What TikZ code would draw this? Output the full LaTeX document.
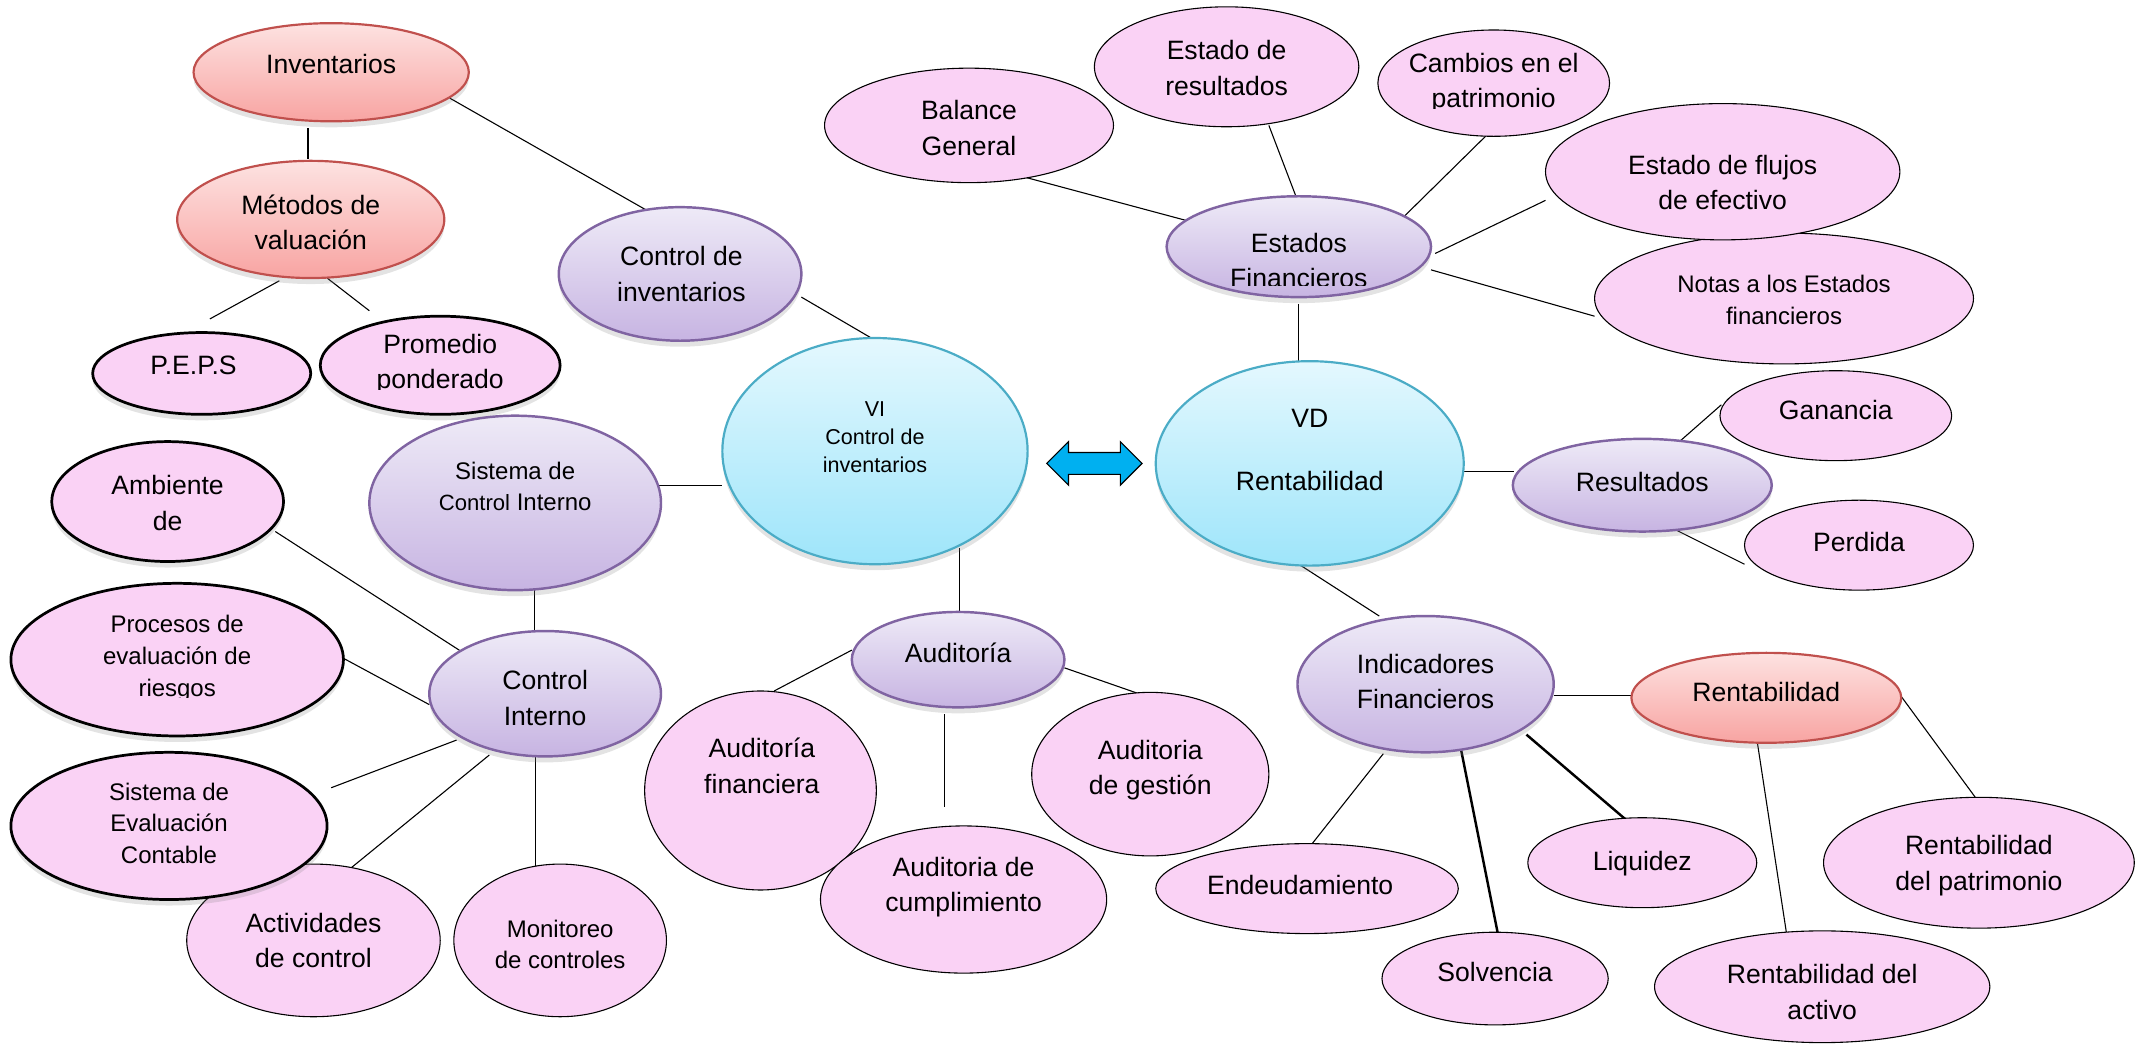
\documentclass[tikz,border=0pt]{standalone}
\usepackage{fontspec}
\setmainfont{Liberation Sans}
\usetikzlibrary{shapes.geometric,calc,shadows}
\definecolor{pinkf}{HTML}{FAD2F5}
\definecolor{purtop}{HTML}{EEEAF7}
\definecolor{purbot}{HTML}{C7B4E2}
\definecolor{purbd}{HTML}{8064A2}
\definecolor{redtop}{HTML}{FDE2E1}
\definecolor{redbot}{HTML}{F8A4A2}
\definecolor{redbd}{HTML}{C0504D}
\definecolor{cyantop}{HTML}{E4F8FE}
\definecolor{cyanbot}{HTML}{9EE5FA}
\definecolor{cyanbd}{HTML}{4BACC6}
\definecolor{arrowc}{HTML}{00B0F0}
\pgfdeclarelayer{bg}
\pgfsetlayers{bg,main}
\tikzset{
  base/.style={ellipse, inner sep=0pt},
  softshadow/.style={drop shadow={opacity=0.22, shadow xshift=0pt, shadow yshift=-2.2pt}},
  pinkthin/.style={base, fill=pinkf, draw=black, line width=0.4pt},
  pinkthick/.style={base, fill=pinkf, draw=black, line width=1pt, softshadow},
  purp/.style={base, top color=purtop, bottom color=purbot, draw=purbd, line width=0.9pt, softshadow},
  redn/.style={base, top color=redtop, bottom color=redbot, draw=redbd, line width=0.8pt, softshadow},
  cyann/.style={base, top color=cyantop, bottom color=cyanbot, draw=cyanbd, line width=0.8pt, softshadow},
  txt/.style={align=center, inner sep=0pt, font=\fontsize{9.75}{13}\selectfont},
  txts/.style={align=center, inner sep=0pt, font=\fontsize{8.8}{11.6}\selectfont},
  txtvi/.style={align=center, inner sep=0pt, font=\fontsize{7.9}{10.2}\selectfont},
  conn/.style={draw=black, line width=0.4pt},
  connthick/.style={draw=black, line width=0.9pt}
}
\newcommand{\Ell}[6]{\node[#6, minimum width=#4pt, minimum height=#5pt] (#1) at (#2,#3) {};}
\begin{document}
\begin{tikzpicture}[x=0.5pt,y=-0.5pt]
\useasboundingbox (0,0) rectangle (1568,767);
% ---------- ellipses ----------
\Ell{inv}{243}{53}{101}{36}{redn}
\Ell{met}{228}{161}{98}{43}{redn}
\Ell{peps}{148}{274}{80}{30}{pinkthick}
\Ell{prom}{323}{268}{88}{36}{pinkthick}
\Ell{cinv}{499}{201}{89}{49}{purp}
\Ell{vi}{642}{331}{112}{83}{cyann}
\Ell{vd}{961}{340}{113}{75}{cyann}
\Ell{bal}{711}{92}{106}{42}{pinkthin}
\Ell{eres}{900}{49}{97}{44}{pinkthin}
\Ell{camb}{1096}{61}{85}{39}{pinkthin}
\Ell{notas}{1309}{219}{139}{48}{pinkthin}
\Ell{flu}{1264}{126}{130}{50}{pinkthin}
\Ell{ef}{953}{181}{97}{37}{purp}
\Ell{res}{1205}{356}{95}{34}{purp}
\Ell{gan}{1347}{305}{85}{33}{pinkthin}
\Ell{per}{1364}{400}{84}{33}{pinkthin}
\Ell{ind}{1046}{502}{94}{50}{purp}
\Ell{rent}{1296}{512}{99}{33}{redn}
\Ell{end}{959}{652}{111}{33}{pinkthin}
\Ell{solv}{1097}{718}{83}{34}{pinkthin}
\Ell{liq}{1205}{633}{84}{33}{pinkthin}
\Ell{rpat}{1452}{633}{114}{48}{pinkthin}
\Ell{ract}{1337}{724}{123}{41}{pinkthin}
\Ell{aud}{703}{484}{78}{35}{purp}
\Ell{audf}{558}{580}{85}{73}{pinkthin}
\Ell{audc}{707}{660}{105}{54}{pinkthin}
\Ell{audg}{844}{568}{87}{60}{pinkthin}
\Ell{sci}{378}{369}{107}{64}{purp}
\Ell{ci}{400}{509}{85}{46}{purp}
\Ell{amb}{123}{368}{85}{44}{pinkthick}
\Ell{proc}{130}{484}{122}{56}{pinkthick}
\Ell{act}{230}{690}{93}{56}{pinkthin}
\Ell{sev}{124}{606}{116}{54}{pinkthick}
\Ell{mon}{411}{690}{78}{56}{pinkthin}
% ---------- texts ----------
\node[txt] (inv-t) at (243,47) {Inventarios};
\node[txt] (met-t) at (228,163) {Métodos de\\valuación};
\node[txt] (peps-t) at (142,268) {P.E.P.S};
\begin{scope}
  \clip (230,230) rectangle (416,285.5);
  \node[txt] (prom-t) at (323,267) {Promedio\\ponderado};
\end{scope}
\node[txt] (cinv-t) at (500,201) {Control de\\inventarios};
\node[txtvi] (vi-t) at (642,321) {VI\\Control de\\inventarios};
\node[txt] (vd-t) at (961,330) {VD\\[10pt]Rentabilidad};
\node[txt] (bal-t) at (711,94) {Balance\\General};
\node[txt] (eres-t) at (900,50) {Estado de\\resultados};
\begin{scope}
  \clip (1005,20) rectangle (1190,79.5);
  \node[txt] (camb-t) at (1096,61) {Cambios en el\\patrimonio};
\end{scope}
\node[txt] (flu-t) at (1264,134) {Estado de flujos\\de efectivo};
\node[txts] (notas-t) at (1309,220) {Notas a los Estados\\financieros};
\begin{scope}
  \clip (855,150) rectangle (1052,209.5);
  \node[txt] (ef-t) at (953,191) {Estados\\Financieros};
\end{scope}
\node[txt] (res-t) at (1205,354) {Resultados};
\node[txt] (gan-t) at (1347,301) {Ganancia};
\node[txt] (per-t) at (1364,398) {Perdida};
\node[txt] (ind-t) at (1046,500) {Indicadores\\Financieros};
\node[txt] (rent-t) at (1296,508) {Rentabilidad};
\node[txt] (end-t) at (954,649) {Endeudamiento};
\node[txt] (solv-t) at (1097,713) {Solvencia};
\node[txt] (liq-t) at (1205,634) {Liquidez};
\node[txt] (rpat-t) at (1452,635) {Rentabilidad\\del patrimonio};
\node[txt] (ract-t) at (1337,728) {Rentabilidad del\\activo};
\node[txt] (aud-t) at (703,479) {Auditoría};
\node[txt] (audf-t) at (559,562) {Auditoría\\financiera};
\node[txt] (audc-t) at (707,651) {Auditoria de\\cumplimiento};
\node[txt] (audg-t) at (844,565) {Auditoria\\de gestión};
\node[txts] (sci-t) at (378,357) {Sistema de\\{\fontsize{8.1}{11.6}\selectfont Control} Interno};
\node[txt] (ci-t) at (400,512) {Control\\Interno};
\node[txt] (amb-t) at (123,369) {Ambiente\\de};
\begin{scope}
  \clip (5,430) rectangle (255,511.5);
  \node[txts] (proc-t) at (130,483) {Procesos de\\evaluación de\\riesgos};
\end{scope}
\node[txts] (sev-t) at (124,604) {Sistema de\\Evaluación\\Contable};
\node[txt] (act-t) at (230,690) {Actividades\\de control};
\node[txts] (mon-t) at (411,693) {Monitoreo\\de controles};
% ---------- double arrow ----------
\draw[fill=arrowc, draw=black, line width=0.4pt]
  (768,340) -- (784,324) -- (784,332) -- (822,332) -- (822,324) -- (838,340)
  -- (822,356) -- (822,348) -- (784,348) -- (784,356) -- cycle;
% ---------- connectors ----------
\begin{pgfonlayer}{bg}
\draw[conn] ($(inv.center)+(87,19)$) -- ($(cinv.center)+(-25,-47)$);
\draw[conn] ($(inv.center)+(-17,41)$) -- ($(met.center)+(-2,-44)$);
\draw[conn] ($(met.center)+(-23,45)$) -- ($(peps.center)+(6,-40)$);
\draw[conn] ($(met.center)+(12,43)$) -- ($(prom.center)+(-52,-40)$);
\draw[conn] ($(cinv.center)+(89,17)$) -- ($(vi.center)+(-1,-82)$);
\draw[conn] ($(sci.center)+(97,-13)$) -- ($(vi.center)+(-112,25)$);
\draw[conn] ($(vi.center)+(62,71)$) -- ($(aud.center)+(1,-32)$);
\draw[conn] ($(sci.center)+(14,64)$) -- ($(ci.center)+(-8,-31)$);
\draw[conn] ($(ci.center)+(-60,-30)$) -- ($(amb.center)+(79,22)$);
\draw[conn] ($(ci.center)+(-85,8)$) -- ($(proc.center)+(122,-1)$);
\draw[conn] ($(ci.center)+(-65,34)$) -- ($(sev.center)+(119,-28)$);
\draw[conn] ($(ci.center)+(-41,45)$) -- ($(act.center)+(20,-47)$);
\draw[conn] ($(ci.center)+(-7,45)$) -- ($(mon.center)+(-18,-42)$);
\draw[conn] ($(aud.center)+(-78,-7)$) -- ($(audf.center)+(10,-73)$);
\draw[conn] ($(aud.center)+(-10,40)$) -- ($(audc.center)+(-14,-68)$);
\draw[conn] ($(aud.center)+(78,6)$) -- ($(audg.center)+(6,-54)$);
\draw[conn] ($(ef.center)+(-78,-18)$) -- ($(bal.center)+(41,38)$);
\draw[conn] ($(ef.center)+(-1,-34)$) -- ($(eres.center)+(31,43)$);
\draw[conn] ($(ef.center)+(74,-19)$) -- ($(camb.center)+(-5,38)$);
\draw[conn] ($(ef.center)+(100,5)$) -- ($(flu.center)+(-130,21)$);
\draw[conn] ($(ef.center)+(97,17)$) -- ($(notas.center)+(-139,13)$);
\draw[conn] ($(ef.center)+(0,42)$) -- ($(vd.center)+(-8,-74)$);
\draw[conn] ($(vd.center)+(113,6)$) -- ($(res.center)+(-94,-10)$);
\draw[conn] ($(res.center)+(25,-30)$) -- ($(gan.center)+(-84,-8)$);
\draw[conn] ($(res.center)+(25,33)$) -- ($(per.center)+(-84,14)$);
\draw[conn] ($(vd.center)+(-8,74)$) -- ($(ind.center)+(-34,-50)$);
\draw[conn] ($(ind.center)+(94,8)$) -- ($(rent.center)+(-98,-2)$);
\draw[conn] ($(ind.center)+(-31,51)$) -- ($(end.center)+(3,-32)$);
\draw[connthick] ($(ind.center)+(26,48)$) -- ($(solv.center)+(2,-33)$);
\draw[connthick] ($(ind.center)+(74,37)$) -- ($(liq.center)+(-9,-29)$);
\draw[conn] ($(rent.center)+(99,-1)$) -- ($(rpat.center)+(1,-43)$);
\draw[conn] ($(rent.center)+(-7,30)$) -- ($(ract.center)+(-26,-38)$);
\end{pgfonlayer}
\end{tikzpicture}
\end{document}
